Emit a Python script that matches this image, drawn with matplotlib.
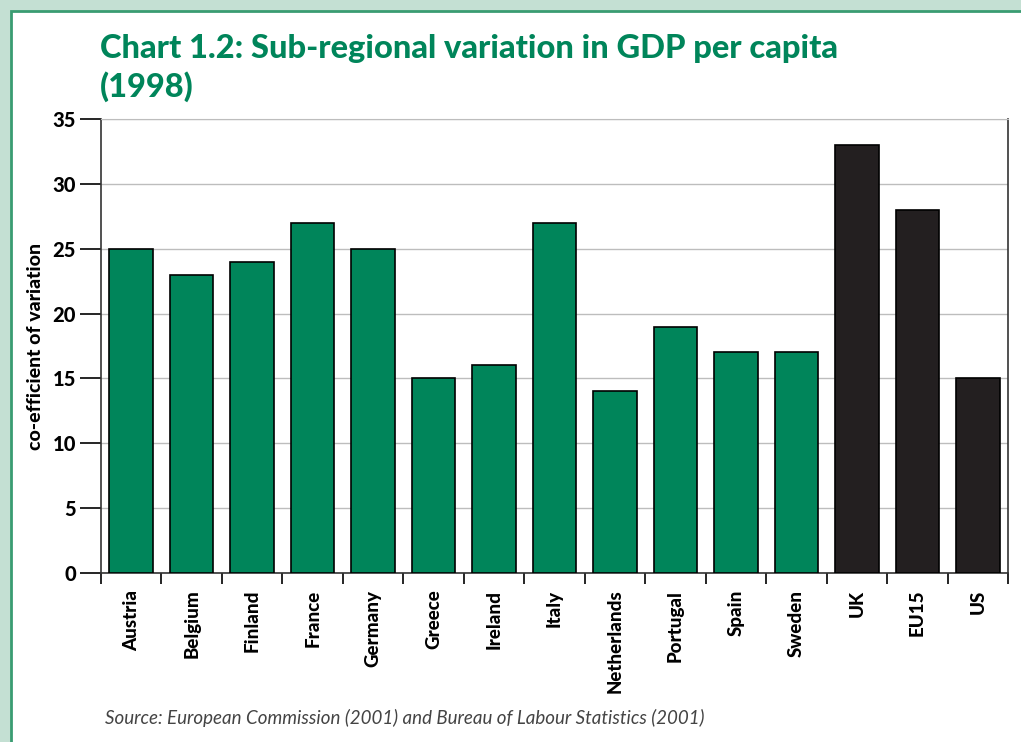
import matplotlib.pyplot as plt
import numpy as np
from matplotlib.patches import Rectangle

countries = ['Austria', 'Belgium', 'Finland', 'France', 'Germany', 'Greece', 'Ireland',
             'Italy', 'Netherlands', 'Portugal', 'Spain', 'Sweden', 'UK', 'EU15', 'US']
values = [25, 23, 24, 27, 25, 15, 16, 27, 14, 19, 17, 17, 33, 28, 15]
groups = ['eu'] * 12 + ['agg'] * 3
yticks = [0, 5, 10, 15, 20, 25, 30, 35]

green = '#00855a'
dark = '#231f20'
colors = [green if g == 'eu' else dark for g in groups]

plt.rcParams['font.family'] = ['Lato', 'DejaVu Sans']

fig = plt.figure(figsize=(10.21, 7.42), dpi=100)
fig.patch.set_facecolor('#c4e0d3')
# white panel with green frame
fig.patches.append(Rectangle((11/1021, -0.1), 1.2, (742-11)/742 + 0.1, transform=fig.transFigure,
                             facecolor='white', edgecolor='#3a9c72', linewidth=2, zorder=-10))

ax = fig.add_axes([101/1021, (742-573)/742, 907/1021, 454/742])
x = np.arange(len(countries))
ax.bar(x, values, width=0.72, color=colors, edgecolor='black', linewidth=1.2, zorder=3)

ax.set_xlim(-0.5, len(countries) - 0.5)
ax.set_ylim(0, 35)
ax.set_yticks(yticks)
ax.set_yticklabels([str(v) for v in yticks], fontsize=14.5, fontweight='black')
ax.yaxis.grid(True, color='#bdbdbd', linewidth=1, zorder=0)
ax.set_axisbelow(True)
ax.tick_params(axis='y', length=15, width=1.2, pad=3)

ax.set_xticks(x)
ax.set_xticklabels(countries, rotation=90, fontsize=13.5, fontweight='black', va='top')
ax.tick_params(axis='x', which='major', length=0, pad=12)
ax.set_xticks(np.arange(-0.5, len(countries)), minor=True)
ax.tick_params(axis='x', which='minor', length=8, width=1.2)

for s in ['left', 'right', 'bottom']:
    ax.spines[s].set_linewidth(1.2)
    ax.spines[s].set_color('#333333')
ax.spines['top'].set_color('#bdbdbd')

ax.set_ylabel('co-efficient of variation', fontsize=14, fontweight='black', labelpad=6)

fig.text(100/1021, 1 - 68/742, 'Chart 1.2: Sub-regional variation in GDP per capita\n(1998)',
         color=green, fontsize=23.5, fontweight='black', ha='left', va='center', linespacing=1.3)
fig.text(105/1021, 1 - 718/742,
         'Source: European Commission (2001) and Bureau of Labour Statistics (2001)',
         fontsize=13.5, style='italic', color='#444444', ha='left', va='center')

fig.savefig('out.png', dpi=100, facecolor=fig.get_facecolor())
